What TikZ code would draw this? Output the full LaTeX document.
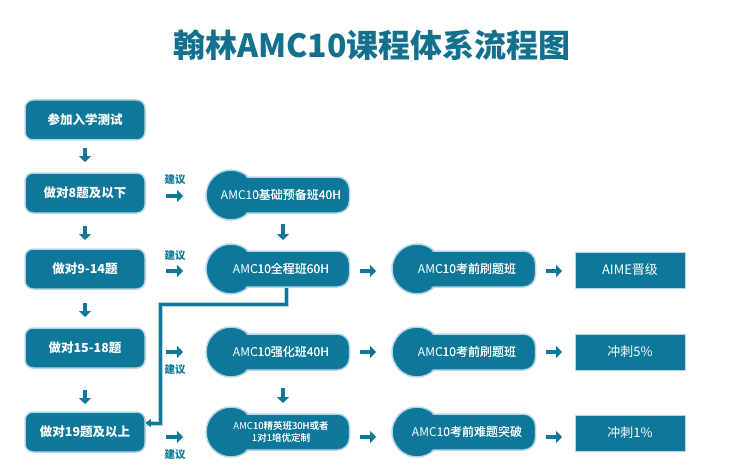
\documentclass[tikz,border=0pt]{standalone}
\usepackage{fontspec}
\setmainfont{Noto Sans CJK SC}
\usetikzlibrary{arrows.meta}
\definecolor{mb}{HTML}{0E789A}
\definecolor{gl}{HTML}{B8D6E8}
\definecolor{tt}{HTML}{13708F}
\tikzset{
 box/.style={fill=mb,draw=gl,line width=1.5pt,rounded corners=8pt,minimum width=120pt,minimum height=40pt,text=white,font=\fontsize{12.5}{14}\selectfont\bfseries},
 pillr/.style={fill=mb,draw=gl,line width=1.5pt,rounded corners=12pt,minimum width=137pt,minimum height=36pt,text=white,font=\fontsize{12}{13}\selectfont,align=center},
 pillc/.style={fill=mb,draw=gl,line width=1.5pt,circle,minimum size=50pt,inner sep=0pt},
 res/.style={fill=mb,draw=gl,line width=0.6pt,minimum width=110pt,minimum height=36pt,text=white,font=\fontsize{13}{14}\selectfont},
 ar/.style={mb,line width=4.5pt,-{Triangle[length=6pt,width=12pt]}},
 lab/.style={text=mb,font=\fontsize{10.5}{11}\selectfont\bfseries},
}
\newcommand{\mypill}[4]{%
 \node[pillc] (#1c) at (#2-50,#3) {};
 \node[pillr] (#1) at (#2,#3) {#4};
 \fill[mb] (#1c.center) circle (23.5pt);
 \node[pillr,draw=none,fill=none] at (#2,#3) {#4};
}
\begin{document}
\begin{tikzpicture}[x=1pt,y=-1pt]
\useasboundingbox (0,0) rectangle (744,476);
\node[text=tt,font=\fontsize{32}{34}\selectfont\bfseries] (title) at (372,45) {翰林AMC10课程体系流程图};
% left column
\node[box] (l1) at (85,120) {参加入学测试};
\node[box] (l2) at (85,193) {做对8题及以下};
\node[box] (l3) at (85,269) {做对9-14题};
\node[box] (l4) at (85,348) {做对15-18题};
\node[box] (l5) at (85,432) {做对19题及以上};
\foreach \y in {148,226,303,390} \draw[ar] (85,\y) -- (85,\y+14);
% middle
\mypill{m1}{281}{195}{AMC10基础预备班40H}
\mypill{m2}{281}{269}{AMC10全程班60H}
\mypill{m4}{281}{352}{AMC10强化班40H}
\mypill{m5}{281}{432}{\fontsize{9.5}{10}\selectfont AMC10精英班30H或者\\[-1pt]\fontsize{9.5}{10}\selectfont 1对1培优定制}
\mypill{r3}{467}{269}{AMC10考前刷题班}
\mypill{r4}{467}{352}{AMC10考前刷题班}
\mypill{r5}{467}{432}{AMC10考前难题突破}
\node[res] (e3) at (630,270) {AIME晋级};
\node[res] (e4) at (630,352) {冲刺5\%};
\node[res] (e5) at (630,433) {冲刺1\%};
\draw[ar] (283,224) -- (283,240);
\draw[ar] (283,388) -- (283,403);
% suggestion arrows
\foreach \y in {196,271,352,437} \draw[ar] (166,\y) -- (183,\y);
\node[lab] (s1) at (175,180) {建议};
\node[lab] (s2) at (175,256) {建议};
\node[lab] (s4) at (175,370) {建议};
\node[lab] (s5) at (175,455) {建议};
\foreach \y in {271,352,437} {\draw[ar] (360,\y) -- (376,\y); \draw[ar] (546,\y) -- (562,\y);}
% connector
\coordinate (k1) at (286,304);
\coordinate (k2) at (160,304);
\coordinate (k3) at (160,423);
\draw[gl,line width=5pt] (m2.south -| k1) -- (k1) -- (k2) -- (k3) -- (l5.east |- k3);
\draw[mb,line width=3pt,-{Triangle[length=5pt,width=8pt]}] (m2.south -| k1) -- (k1) -- (k2) -- (k3) -- (l5.east |- k3);
\end{tikzpicture}
\end{document}
